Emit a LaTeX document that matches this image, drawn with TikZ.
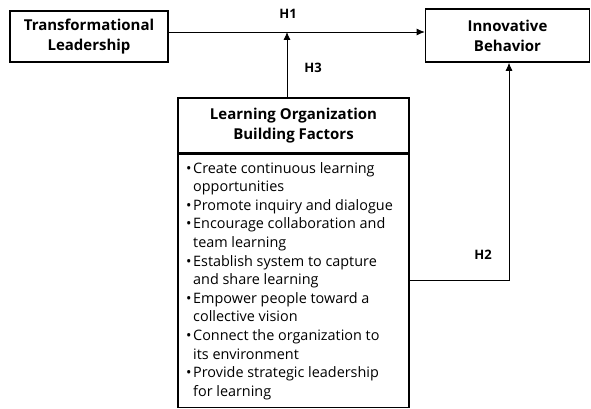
\documentclass[tikz,border=0pt]{standalone}
\usepackage{fontspec}
\setmainfont{Open Sans}
\usetikzlibrary{arrows.meta}
\newcommand{\bitem}[2]{\makebox[7pt][l]{•}#1\\\ifx&#2&\else\hspace*{7pt}#2\\\fi}
\begin{document}
\begin{tikzpicture}[x=1pt,y=-1pt,
  box/.style={draw,line width=1.6pt,inner sep=0pt,align=center,
    font=\bfseries\fontsize{15}{20}\selectfont},
  conn/.style={line width=0.8pt},
  tip/.style={-{Latex[length=8pt,width=7pt]}},
  hlab/.style={font=\bfseries\fontsize{13}{15}\selectfont,inner sep=0pt}]
\useasboundingbox (0,0) rectangle (591,409);
\fill[white] (0,0) rectangle (591,409);
% top boxes
\node[box,minimum width=158pt,minimum height=51pt] (tl) at (89,36.5)
  {Transformational\\Leadership};
\node[box,minimum width=164pt,minimum height=53pt] (ib) at (507.5,35.5)
  {Innovative\\Behavior};
% learning organization box: header and list
\node[box,minimum width=231pt,minimum height=55pt] (lh) at (293.5,125.5)
  {Learning Organization\\Building Factors};
\node[draw,line width=1.6pt,minimum width=231pt,minimum height=253pt,
  inner sep=0pt,anchor=north] (lb) at (lh.south) {};
\node[anchor=north west,inner sep=0pt,align=left,
  font=\fontsize{14.4}{18.6}\selectfont] (items) at (186,162)
  {\bitem{Create continuous learning}{opportunities}%
   \bitem{Promote inquiry and dialogue}{}%
   \bitem{Encourage collaboration and}{team learning}%
   \bitem{Establish system to capture}{and share learning}%
   \bitem{Empower people toward a}{collective vision}%
   \bitem{Connect the organization to}{its environment}%
   \bitem{Provide strategic leadership}{for learning}};
% connectors
\coordinate (h1) at (287,32);
\draw[conn,tip] (tl.east |- h1) -- (ib.west |- h1);
\draw[conn,tip] (lh.north -| h1) -- (h1);
\coordinate (h2) at (509,280);
\draw[conn,tip] (lb.east |- h2) -- (h2) -- (ib.south -| h2);
% hypothesis labels
\node[hlab] (l1) at (288,14) {H1};
\node[hlab] (l3) at (313,68) {H3};
\node[hlab] (l2) at (483,255) {H2};
\end{tikzpicture}
\end{document}
